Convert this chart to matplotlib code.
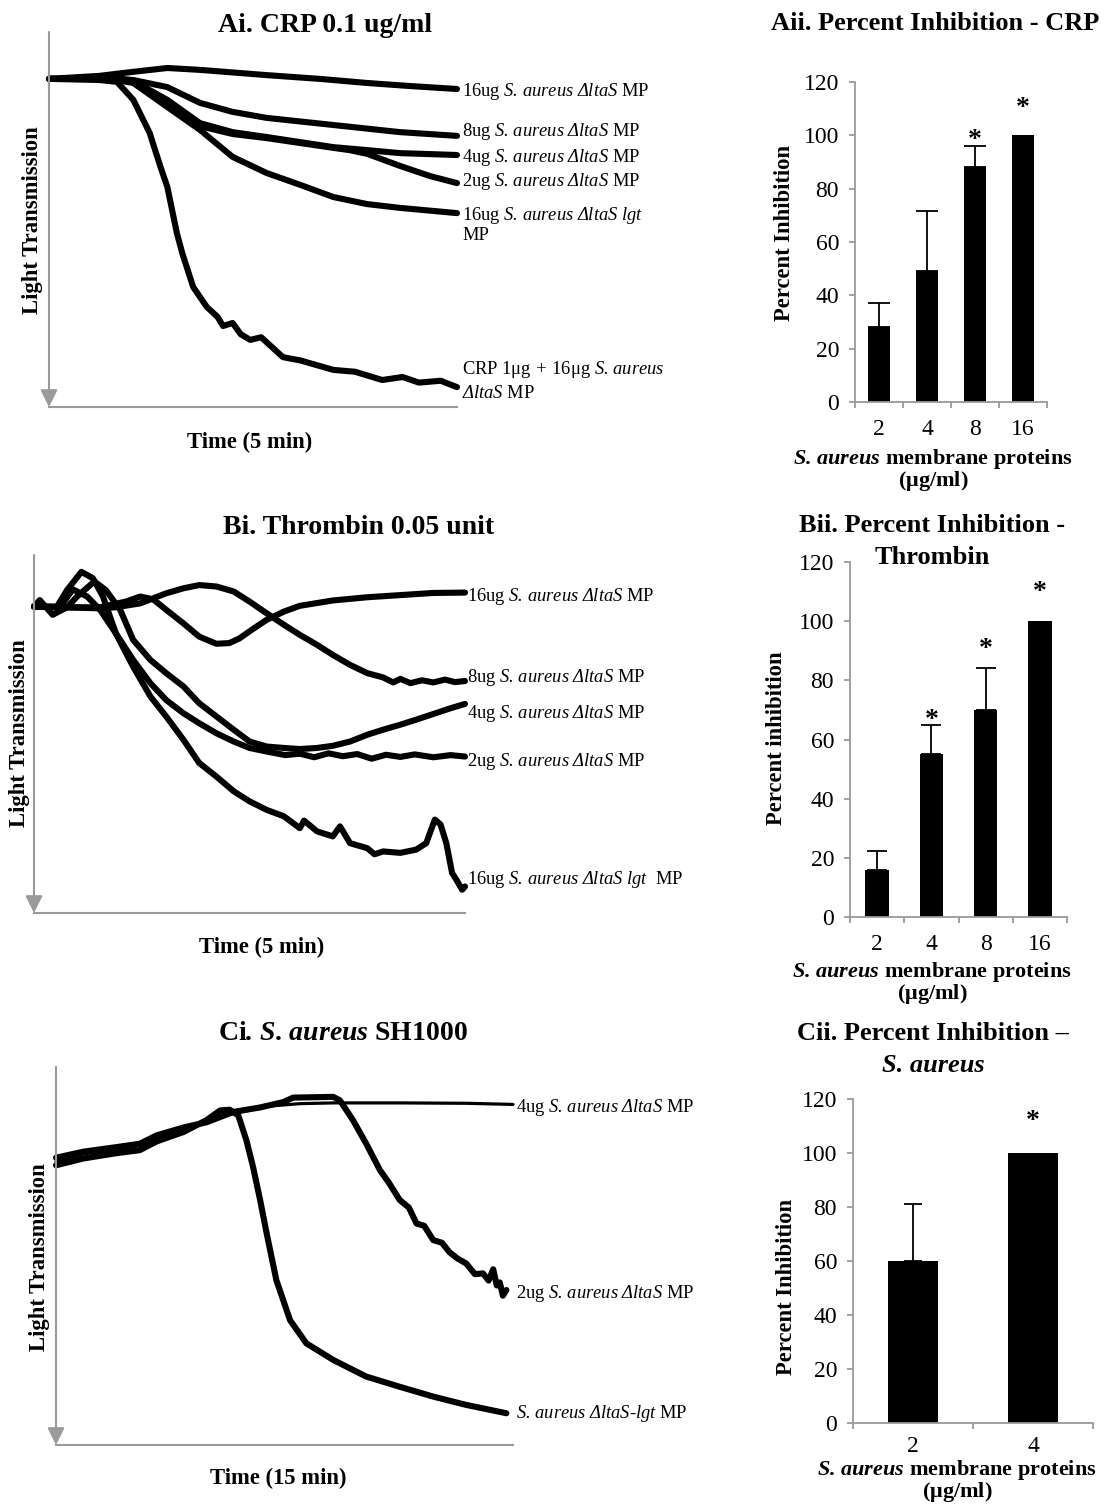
import matplotlib
matplotlib.use('Agg')
import matplotlib.pyplot as plt
import numpy as np

# ---- Ai: CRP 0.1 ug/ml traces (time s, aggregation % from top of axis) ----
ai_t_16 = [0, 37, 60, 87, 111, 160, 199, 234, 265, 300]
ai_16 = [12.5, 11.7, 10.7, 9.6, 10.1, 11.5, 12.5, 13.6, 14.4, 15.2]
ai_t_8 = [0, 52, 62, 87, 111, 135, 160, 209, 258, 300]
ai_8 = [12.5, 12.5, 12.8, 14.7, 18.9, 21.3, 22.9, 24.8, 26.7, 27.7]
ai_t_4 = [0, 52, 62, 87, 111, 135, 160, 209, 234, 258, 300]
ai_4 = [12.5, 12.5, 13.1, 18.1, 24.3, 26.7, 28.0, 30.7, 31.5, 32.3, 32.8]
ai_t_2 = [0, 52, 62, 87, 111, 135, 160, 209, 221, 234, 258, 280, 300]
ai_2 = [12.5, 12.5, 13.3, 18.4, 25.1, 27.2, 28.3, 30.9, 31.5, 32.5, 35.7, 38.4, 40.3]
ai_t_lgt = [0, 45, 62, 87, 111, 135, 160, 185, 209, 234, 258, 300]
ai_lgt = [12.5, 12.5, 13.6, 20.0, 26.1, 33.3, 37.6, 40.8, 44.0, 45.9, 46.9, 48.3]
ai_t_crp = [0, 37, 50, 62, 74, 82, 87, 94, 98, 106, 116, 124, 128, 135, 141, 148, 156,
            172, 185, 209, 225, 245, 260, 272, 288, 300]
ai_crp = [12.5, 12.8, 13.3, 18.1, 26.9, 36.0, 41.3, 53.6, 59.0, 68.0, 73.3, 76.0, 78.4, 77.6,
          80.6, 82.1, 81.4, 86.7, 87.6, 90.1, 90.6, 92.8, 92.0, 93.5, 93.0, 94.7]

# ---- Bi: Thrombin 0.05 unit traces ----
bi_t_16 = [0, 4, 13, 23, 46, 64, 74, 83, 92, 104, 115, 127, 136, 143, 153, 162, 174,
           185, 208, 232, 255, 278, 300]
bi_16 = [14.4, 12.6, 16.7, 14.6, 14.6, 13.0, 11.6, 12.4, 15.3, 19.1, 22.8, 24.8, 24.6,
         23.3, 20.5, 18.1, 15.8, 14.2, 12.7, 11.8, 11.2, 10.6, 10.5]
bi_t_8 = [0, 46, 57, 74, 92, 104, 115, 127, 139, 150, 162, 174, 185, 197, 208, 220,
          232, 243, 250, 255, 262, 270, 278, 286, 293, 300]
bi_8 = [14.4, 14.9, 14.6, 13.5, 10.7, 9.3, 8.4, 8.8, 10.2, 13.0, 16.3, 19.5, 22.3, 25.1,
        27.9, 30.7, 33.0, 34.2, 35.6, 34.6, 35.8, 35.0, 35.6, 34.8, 35.5, 35.2]
bi_t_4 = [0, 23, 30, 42, 50, 60, 69, 81, 92, 104, 115, 127, 139, 150, 162, 174, 185,
          197, 208, 220, 232, 243, 255, 266, 278, 290, 300]
bi_4 = [14.4, 14.6, 11.6, 7.4, 9.8, 15.3, 23.7, 29.3, 33.0, 36.7, 41.4, 45.1, 48.8,
        52.1, 53.5, 53.9, 54.2, 53.9, 53.3, 52.1, 50.2, 48.8, 47.4, 46.0, 44.4, 42.8, 41.6]
bi_t_2 = [0, 18, 27, 37, 46, 57, 69, 81, 92, 104, 115, 127, 139, 150, 162, 175, 185,
          195, 205, 215, 225, 235, 245, 255, 265, 278, 290, 300]
bi_2 = [14.4, 14.6, 9.6, 11.6, 15.3, 21.9, 29.3, 35.8, 40.5, 44.2, 47.0, 49.8, 52.1,
        53.9, 54.9, 55.9, 55.5, 56.5, 55.4, 56.2, 55.6, 56.9, 55.8, 56.4, 55.7, 56.5,
        55.9, 56.3]
bi_t_lgt = [0, 16, 23, 33, 41, 48, 57, 69, 81, 92, 104, 115, 127, 139, 150, 162, 174,
            185, 188, 197, 208, 213, 220, 232, 237, 243, 255, 266, 273, 279, 283, 287,
            291, 294, 298, 300]
bi_lgt = [14.4, 14.4, 9.8, 4.7, 6.5, 11.6, 21.9, 31.2, 39.5, 45.1, 51.6, 58.1, 61.9,
          66.0, 68.8, 71.2, 73.0, 76.3, 74.2, 77.2, 78.6, 75.8, 80.5, 81.9, 83.6, 82.8,
          83.2, 82.3, 80.5, 73.9, 75.3, 80.5, 88.8, 90.7, 93.5, 92.6]

# ---- Ci: S. aureus SH1000 traces (time s over 15 min) ----
ci_t_4 = [0, 54, 119, 165, 198, 251, 297, 349, 415, 480, 546, 677, 808, 900]
ci_4 = [25.0, 23.0, 21.8, 20.8, 18.6, 16.4, 14.2, 12.3, 10.4, 9.7, 9.5, 9.5, 9.6, 9.9]
ci_t_2 = [0, 54, 119, 165, 198, 251, 297, 349, 402, 447, 467, 546, 559, 585, 611, 638,
          655, 677, 695, 710, 725, 743, 760, 775, 790, 808, 825, 841, 852, 861, 868,
          874, 880, 887]
ci_2 = [24.0, 22.4, 21.2, 20.3, 18.1, 16.0, 14.6, 11.9, 10.7, 9.3, 8.1, 7.9, 8.8, 14.1,
        20.3, 27.3, 30.5, 35.2, 37.2, 41.4, 42.0, 45.8, 46.5, 49.0, 50.6, 52.0, 54.8,
        54.6, 56.5, 53.5, 57.8, 57.0, 60.5, 59.0]
ci_t_lgt = [0, 54, 119, 165, 198, 251, 297, 323, 342, 359, 375, 388, 402, 415, 434,
            461, 493, 546, 611, 677, 743, 808, 887]
ci_lgt = [26.0, 24.2, 22.8, 22.0, 19.7, 17.2, 14.0, 11.5, 11.3, 12.8, 19.4, 26.4, 35.2,
          44.1, 56.4, 67.0, 73.1, 77.5, 81.9, 84.6, 87.2, 89.4, 91.6]

# ---- bar charts: percent inhibition ----
aii_doses = ['2', '4', '8', '16']
aii_mean = [28, 49, 88, 100]
aii_err = [9, 22.5, 8, 0]
aii_star = [None, None, 98, 110]

bii_doses = ['2', '4', '8', '16']
bii_mean = [16, 55, 70, 100]
bii_err = [6.2, 10, 14.2, 0]
bii_star = [None, 66.5, 90.5, 109.8]

cii_doses = ['2', '4']
cii_mean = [60, 100]
cii_err = [21, 0]
cii_star = [None, 111.5]

W, H = 1113, 1507
GREY = '#9a9a9a'
SERIF = 'Liberation Serif'

plt.rcParams['font.family'] = SERIF
plt.rcParams['mathtext.fontset'] = 'custom'
plt.rcParams['mathtext.rm'] = SERIF
plt.rcParams['mathtext.it'] = SERIF + ':italic'
plt.rcParams['mathtext.bf'] = SERIF + ':bold'

fig = plt.figure(figsize=(W / 100, H / 100), dpi=100)
fig.patch.set_facecolor('white')


def px_rect(x0, y0, x1, y1):
    return [x0 / W, 1 - y1 / H, (x1 - x0) / W, (y1 - y0) / H]


def ftext(x, y, s, **kw):
    kw.setdefault('va', 'center')
    return fig.text(x / W, 1 - y / H, s, **kw)


def trace_panel(rect, tmax, traces):
    ax = fig.add_axes(px_rect(*rect))
    for t, v, lw in traces:
        ax.plot(t, v, color='black', lw=lw, solid_joinstyle='round',
                solid_capstyle='round', clip_on=False)
    ax.set_xlim(0, tmax)
    ax.set_ylim(100, 0)
    for s in ['top', 'right', 'left']:
        ax.spines[s].set_visible(False)
    ax.spines['bottom'].set_color(GREY)
    ax.spines['bottom'].set_linewidth(1.5)
    ax.set_xticks([])
    ax.set_yticks([])
    ax.patch.set_alpha(0)
    ax.annotate('', xy=(0, 0), xytext=(0, 1), xycoords='axes fraction',
                arrowprops=dict(arrowstyle='-|>', color=GREY, lw=1.5,
                                mutation_scale=26, shrinkA=0, shrinkB=0))
    return ax


def bar_panel(rect, doses, mean, err, star, width, capsize, xpad=12):
    ax = fig.add_axes(px_rect(*rect))
    x = np.arange(1, len(doses) + 1)
    ax.bar(x, mean, width, color='black', zorder=2)
    for xi, m, e in zip(x, mean, err):
        if e > 0:
            ax.errorbar([xi], [m], yerr=[[0], [e]], fmt='none', ecolor='black',
                        elinewidth=1.3, capsize=capsize, capthick=1.3, zorder=3)
    for xi, s in zip(x, star):
        if s is not None:
            ax.text(xi, s, '*', ha='center', va='center', fontsize=20,
                    fontweight='bold')
    ax.set_ylim(0, 120)
    ax.set_xlim(0.5, len(doses) + 0.5)
    ax.set_yticks(range(0, 121, 20))
    ax.set_xticks(np.arange(0.5, len(doses) + 1, 1.0))
    ax.set_xticklabels([])
    ax.set_xticks(x, minor=True)
    ax.set_xticklabels(doses, minor=True)
    for s in ['top', 'right']:
        ax.spines[s].set_visible(False)
    for s in ['left', 'bottom']:
        ax.spines[s].set_color(GREY)
        ax.spines[s].set_linewidth(1.3)
    ax.tick_params(axis='both', which='major', direction='out', length=4.5,
                   width=1.3, color=GREY, labelsize=17)
    ax.tick_params(axis='y', pad=7)
    ax.tick_params(axis='x', which='minor', length=0, labelsize=17, pad=xpad)
    ax.patch.set_alpha(0)
    return ax


# ---- left column: aggregation traces ----
LW = 4.4
trace_panel((49, 32, 457, 407), 300,
            [(ai_t_16, ai_16, LW), (ai_t_8, ai_8, LW), (ai_t_4, ai_4, LW),
             (ai_t_2, ai_2, LW), (ai_t_lgt, ai_lgt, LW), (ai_t_crp, ai_crp, LW)])
trace_panel((34, 555, 465, 913), 300,
            [(bi_t_16, bi_16, LW), (bi_t_8, bi_8, LW), (bi_t_4, bi_4, LW),
             (bi_t_2, bi_2, LW), (bi_t_lgt, bi_lgt, LW)])
trace_panel((56, 1067, 513, 1445), 900,
            [(ci_t_4, ci_4, 2.3), (ci_t_2, ci_2, LW), (ci_t_lgt, ci_lgt, LW)])

# labels: italic text, upright parts through mathtext \mathrm
LAB = dict(fontsize=13.3, fontstyle='italic')


def mp(dose):
    return r'$\mathrm{' + dose + '}$ S. aureus ΔltaS $\\mathrm{MP}$'


AXL = dict(fontsize=16.3, fontweight='bold')
ftext(218, 25, 'Ai. CRP 0.1 ug/ml', fontsize=20, fontweight='bold')
ftext(462, 91, mp('16ug'), **LAB)
ftext(462, 132, mp('8ug'), **LAB)
ftext(462, 158, mp('4ug'), **LAB)
ftext(462, 182, mp('2ug'), **LAB)
ftext(462, 215, r'$\mathrm{16ug}$ S. aureus ΔltaS lgt', **LAB)
ftext(462, 236, 'MP', fontsize=13.3)
ftext(462, 370, r'$\mathrm{CRP}$ $\mathrm{1μg}$ + $\mathrm{16μg}$ S. aureus', **LAB)
ftext(462, 393, r'ΔltaS $\mathrm{MP}$', **LAB)
ftext(33, 220, 'Light Transmission', rotation=90, ha='center', **AXL)
ftext(250, 442, 'Time (5 min)', ha='center', **AXL)

ftext(223, 527, 'Bi. Thrombin 0.05 unit', fontsize=20, fontweight='bold')
ftext(467, 596, mp('16ug'), **LAB)
ftext(467, 677, mp('8ug'), **LAB)
ftext(467, 713, mp('4ug'), **LAB)
ftext(467, 762, mp('2ug'), **LAB)
ftext(467, 880, r'$\mathrm{16ug}$ S. aureus ΔltaS lgt  $\mathrm{MP}$', **LAB)
ftext(20, 733, 'Light Transmission', rotation=90, ha='center', **AXL)
ftext(262, 947, 'Time (5 min)', ha='center', **AXL)

ftext(218, 1033, r'$\mathbf{Ci}$. S. aureus $\mathbf{SH1000}$', fontsize=20,
      fontweight='bold', fontstyle='italic')
ftext(516, 1107, mp('4ug'), **LAB)
ftext(516, 1293, mp('2ug'), **LAB)
ftext(516, 1413, r'S. aureus ΔltaS-lgt $\mathrm{MP}$', **LAB)
ftext(40, 1257, 'Light Transmission', rotation=90, ha='center', **AXL)
ftext(278, 1478, 'Time (15 min)', ha='center', **AXL)

# ---- right column: percent inhibition bars ----
bar_panel((855, 82, 1047, 402), aii_doses, aii_mean, aii_err, aii_star, 0.46, 8)
bar_panel((850, 562, 1067, 917), bii_doses, bii_mean, bii_err, bii_star, 0.43, 7)
bar_panel((853, 1099, 1093, 1423), cii_doses, cii_mean, cii_err, cii_star, 0.41, 6.5,
          xpad=9)

TTL = dict(fontsize=19, fontweight='bold', ha='center')
XL = (r'S. aureus $\mathbf{membrane}$ $\mathbf{proteins}$' + '\n'
      + r'$\mathbf{(μg/ml)}$')
XLK = dict(fontsize=16, fontweight='bold', fontstyle='italic', ha='center',
           multialignment='center', linespacing=0.85)

ftext(935, 23, 'Aii. Percent Inhibition - CRP', **TTL)
ftext(785, 233, 'Percent Inhibition', rotation=90, ha='center', **AXL)
ftext(933, 470, XL, **XLK)

ftext(932, 525, 'Bii. Percent Inhibition -', **TTL)
ftext(932, 558, 'Thrombin', **TTL)
ftext(777, 738, 'Percent inhibition', rotation=90, ha='center', **AXL)
ftext(932, 983, XL, **XLK)

ftext(933, 1033, 'Cii. Percent Inhibition –', **TTL)
ftext(933, 1065, 'S. aureus', fontstyle='italic', **TTL)
ftext(787, 1287, 'Percent Inhibition', rotation=90, ha='center', **AXL)
ftext(957, 1481, XL, **XLK)

fig.savefig('out.png', dpi=100, facecolor='white')
